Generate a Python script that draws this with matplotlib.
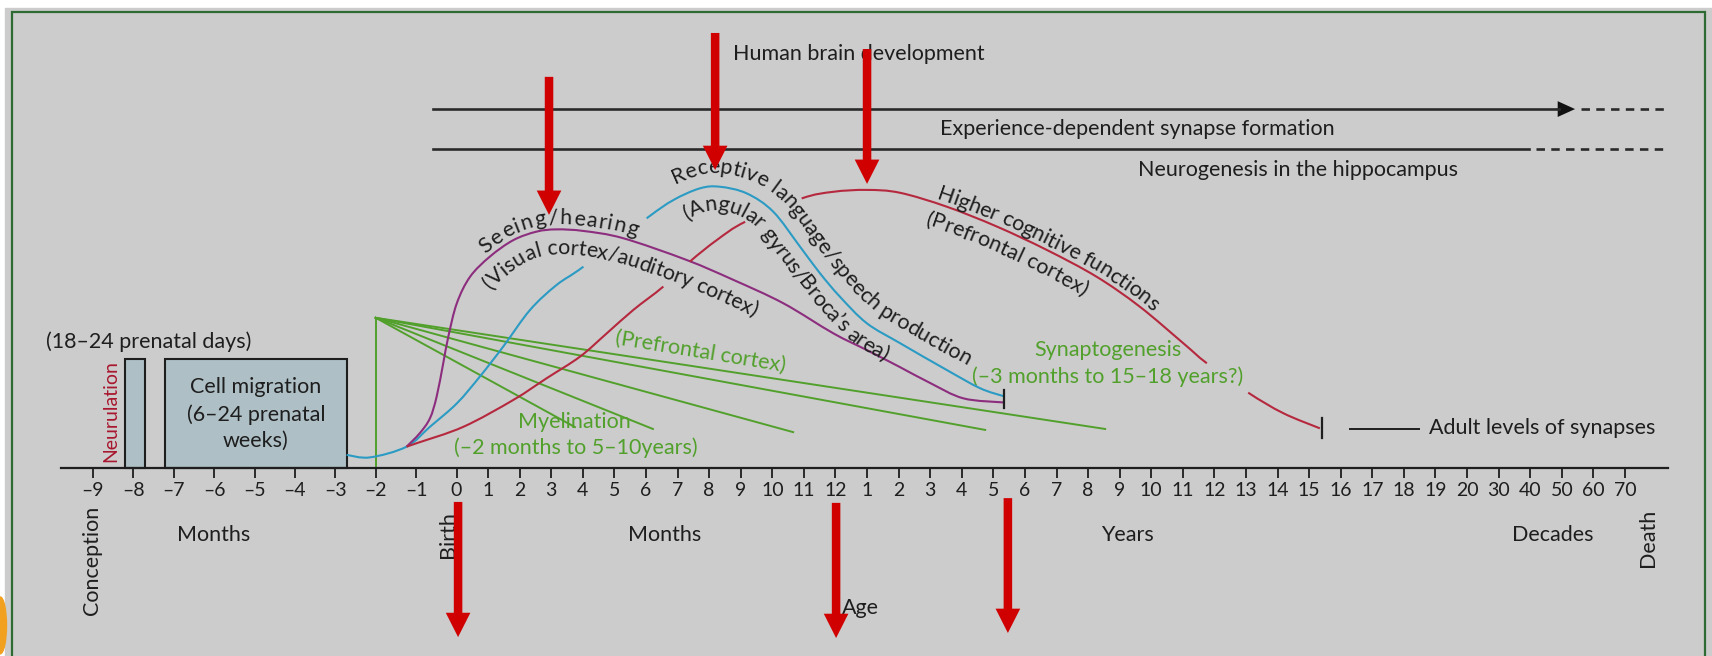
import numpy as np
import matplotlib
matplotlib.use('Agg')
import matplotlib.pyplot as plt
from matplotlib.patches import Rectangle, FancyArrow, Ellipse, PathPatch
from matplotlib.path import Path
from matplotlib.font_manager import FontProperties

plt.rcParams['font.family'] = ['Lato', 'DejaVu Sans']

# ---------------- data ----------------
# x is in axis units: 0 = birth, 1 per postnatal tick; prenatal months are wider
prenatal_ticks = ['–9', '–8', '–7', '–6', '–5', '–4', '–3', '–2', '–1']
month_ticks = [str(m) for m in range(0, 13)]
year_ticks = [str(y) for y in range(1, 21)]
decade_ticks = ['30', '40', '50', '60', '70']

# receptive language / speech production (teal), nan = gap left for text
lang_x = [-3.48, -2.74, -1.58, -0.84, 0.01, 0.74, 1.48, 2.33, 3.17, 4.02, np.nan,
          6.02, 6.87, 7.71, 8.34, 9.19, 10.03, 10.88, 11.51, 12.14, 12.99, 14.04, 15.52, 16.58, 17.32]
lang_y = [0.40, 0.32, 0.66, 1.29, 2.03, 2.88, 3.83, 4.99, 5.78, 6.36, np.nan,
          7.89, 8.47, 8.84, 8.89, 8.68, 8.10, 6.99, 6.15, 5.41, 4.57, 3.94, 3.09, 2.51, 2.26]

# seeing / hearing (purple)
sens_x = [-1.58, -1.16, -0.84, -0.63, -0.42, -0.26, 0.01, 0.43, 1.06, 1.80, 2.54, 3.17, 4.02,
          5.28, 7.29, 8.77, 10.35, 11.93, 12.99, 14.04, 14.99, 16.05, 17.32]
sens_y = [0.66, 1.09, 1.56, 2.24, 3.30, 4.14, 5.20, 6.04, 6.68, 7.20, 7.47, 7.54, 7.49,
          7.26, 6.57, 5.94, 5.20, 4.25, 3.72, 3.18, 2.68, 2.19, 2.06]

# higher cognitive functions (red)
cog_x = [-1.58, -1.26, 0.22, 1.80, 2.86, 3.91, 4.76, 5.60, 6.55, np.nan, 7.39, 8.24, 9.14, np.nan,
         10.93, 11.93, 12.99, 14.04, 15.52, 17.11, 18.69, 20.27, 21.64, 23.02, 23.76, np.nan,
         25.07, 26.18, 27.34]
cog_y = [0.66, 0.77, 1.29, 2.14, 2.83, 3.51, 4.25, 4.99, 5.73, np.nan, 6.52, 7.20, 7.78, np.nan,
         8.52, 8.73, 8.79, 8.70, 8.26, 7.63, 6.89, 6.04, 5.09, 3.93, 3.30, np.nan,
         2.37, 1.72, 1.24]

# myelination fan: starts at -2 months, ends of the lines
myel_top = 4.74
myel_end_x = [3.75, 6.22, 10.66, 16.74, 20.54]
myel_end_y = [1.28, 1.22, 1.12, 1.19, 1.22]

# prenatal boxes (x0, x1, height)
boxes = [(-10.50, -9.85, 3.44), (-9.23, -3.47, 3.44)]

# red arrows (x, top, tip)
arrows = [(2.93, 12.37, 8.00), (8.19, 13.76, 9.42), (13.00, 13.25, 8.98),
          (0.05, -1.09, -5.37), (12.02, -1.12, -5.40), (17.46, -0.97, -5.24)]

# ---------------- layout ----------------
W, H, DPI = 17.12, 6.56, 100
UNIT = 31.58                 # pixels per axis unit
X0_PX, Y0_PX = 456.5, 467.5  # pixel position of birth on the axis
PRE_STEP = 1.279             # width of a prenatal month

GREEN = '#52a02c'
PURPLE = '#8c2d7e'
TEAL = '#2b9bc4'
RED = '#b5283e'
ARROW = '#d00000'
INK = '#1e1e1e'
FS = 15.5

fig = plt.figure(figsize=(W, H), dpi=DPI, facecolor='white')
ax = fig.add_axes([0, 0, 1, 1])
ax.set_xlim(-X0_PX / UNIT, (W * DPI - X0_PX) / UNIT)
ax.set_ylim((Y0_PX - H * DPI) / UNIT, Y0_PX / UNIT)
ax.axis('off')

# background and frame
ax.add_patch(Rectangle((0.003, 0), 1, 1 - 8 / 656, transform=ax.transAxes,
                       color='#cccccc', zorder=0))
ax.add_patch(Rectangle((-14.08, -8), 53.61, 14.43 + 8, fill=False, ec='#2e6b34',
                       lw=1.6, zorder=1, clip_on=False))
ax.add_patch(Ellipse((-14.45, -5.0), 0.4, 1.8, color='#f2a020', zorder=1))

# time axis
tick_pos = np.r_[np.arange(-len(prenatal_ticks), 0) * PRE_STEP,
                 np.arange(len(month_ticks) + len(year_ticks) + len(decade_ticks))]
tick_lab = prenatal_ticks + month_ticks + year_ticks + decade_ticks
ax.plot([-12.52, 38.36], [0, 0], color=INK, lw=1.6, zorder=3)
ax.vlines(tick_pos, -0.32, 0, color=INK, lw=1.3, zorder=3)
for p, lab in zip(tick_pos, tick_lab):
    ax.text(p, -0.74, lab, ha='center', va='center', fontsize=14, color=INK)

for x, lab in [(-7.68, 'Months'), (6.60, 'Months'), (21.23, 'Years'), (34.72, 'Decades')]:
    ax.text(x, -2.14, lab, ha='center', va='center', fontsize=FS, color=INK)
for x, y, lab in [(-11.54, -2.93, 'Conception'), (-0.27, -2.11, 'Birth'), (37.73, -2.23, 'Death')]:
    ax.text(x, y, lab, rotation=90, ha='center', va='center', fontsize=FS, color=INK)
ax.text(12.78, -4.45, 'Age', ha='center', va='center', fontsize=FS, color=INK)

# prenatal boxes
for x0, x1, h in boxes:
    ax.add_patch(Rectangle((x0, 0), x1 - x0, h, fc='#aebfc5', ec=INK, lw=1.5, zorder=2))
ax.text(-10.94, 1.79, 'Neurulation', rotation=90, ha='center', va='center',
        fontsize=14, color='#a8162e')
ax.text(-9.75, 3.97, '(18–24 prenatal days)', ha='center', va='center', fontsize=FS, color=INK)
ax.text(-6.35, 1.69, 'Cell migration\n(6–24 prenatal\nweeks)', ha='center', va='center',
        multialignment='center', linespacing=1.4, fontsize=FS, color=INK, zorder=3)

# top bars
ax.plot([-0.73, 34.9], [11.35, 11.35], color='#2a2a2a', lw=1.9)
ax.add_patch(FancyArrow(34.8, 11.35, 0.62, 0, width=0.02, head_width=0.5, head_length=0.55,
                        length_includes_head=True, color='#111111', lw=0))
ax.plot([35.61, 38.4], [11.35, 11.35], color='#2a2a2a', lw=1.9, ls=(0, (3.2, 2.4)))
ax.plot([-0.73, 33.95], [10.09, 10.09], color='#2a2a2a', lw=1.9)
ax.plot([34.18, 38.4], [10.09, 10.09], color='#2a2a2a', lw=1.9, ls=(0, (3.2, 2.4)))
ax.text(8.76, 13.09, 'Human brain development', ha='left', va='center', fontsize=15.5, color=INK)
ax.text(21.57, 10.72, 'Experience-dependent synapse formation', ha='center', va='center',
        fontsize=FS, color=INK)
ax.text(26.65, 9.42, 'Neurogenesis in the hippocampus', ha='center', va='center',
        fontsize=FS, color=INK)

# myelination
ax.plot([tick_pos[7], tick_pos[7]], [0, myel_top], color=GREEN, lw=1.4, zorder=2)
for ex, ey in zip(myel_end_x, myel_end_y):
    ax.plot([tick_pos[7], ex], [myel_top, ey], color=GREEN, lw=1.4, zorder=2)
ax.text(3.72, 1.45, 'Myelination', ha='center', va='center', fontsize=FS, color=GREEN)
ax.text(3.77, 0.63, '(–2 months to 5–10years)', ha='center', va='center', fontsize=FS, color=GREEN)
ax.text(7.74, 3.66, '(Prefrontal cortex)', rotation=-9.3, rotation_mode='anchor',
        ha='center', va='center', fontsize=FS, color=GREEN)
ax.text(20.63, 3.72, 'Synaptogenesis', ha='center', va='center', fontsize=FS, color=GREEN)
ax.text(20.61, 2.88, '(–3 months to 15–18 years?)', ha='center', va='center', fontsize=FS, color=GREEN)


def smooth_path(xs, ys, skip_gaps=True):
    """Catmull-Rom curve through the points as a cubic Bezier Path; nan marks a gap."""
    xs, ys = np.asarray(xs, float), np.asarray(ys, float)
    gap_after = set()
    pts = []
    for x, y in zip(xs, ys):
        if np.isnan(x):
            gap_after.add(len(pts) - 1)
        else:
            pts.append((x, y))
    P = np.array(pts)
    Q = np.vstack([P[0], P, P[-1]])
    verts, codes = [P[0]], [Path.MOVETO]
    for i in range(len(P) - 1):
        if skip_gaps and i in gap_after:
            verts.append(P[i + 1]); codes.append(Path.MOVETO)
            continue
        c1 = Q[i + 1] + (Q[i + 2] - Q[i]) / 6
        c2 = Q[i + 2] - (Q[i + 3] - Q[i + 1]) / 6
        verts += [c1, c2, P[i + 1]]
        codes += [Path.CURVE4] * 3
    return Path(verts, codes)


for xs, ys, col in [(lang_x, lang_y, TEAL), (sens_x, sens_y, PURPLE), (cog_x, cog_y, RED)]:
    ax.add_patch(PathPatch(smooth_path(xs, ys), fill=False, ec=col, lw=1.5, zorder=3))

ax.plot([17.34, 17.34], [1.88, 2.46], color=INK, lw=1.6, zorder=4)
ax.plot([27.41, 27.41], [0.93, 1.57], color=INK, lw=1.6, zorder=4)
ax.plot([28.29, 30.48], [1.22, 1.22], color=INK, lw=1.4)
ax.text(30.79, 1.25, 'Adult levels of synapses', ha='left', va='center', fontsize=FS, color=INK)

renderer = fig.canvas.get_renderer()


def curve_text(xs, ys, text, x_start, x_end, offset, size=FS, color=INK):
    """Write text letter by letter along a curve, shifted (px) along its normal."""
    path = smooth_path(xs, ys, skip_gaps=False)
    pts = np.vstack(path.to_polygons(transform=ax.transData, closed_only=False))
    step = np.hypot(*np.diff(pts, axis=0).T)
    pts = pts[np.r_[True, step > 1e-6]]
    tan = np.gradient(pts, axis=0)
    tan /= np.hypot(tan[:, 0], tan[:, 1])[:, None]
    off = pts + offset * np.column_stack([-tan[:, 1], tan[:, 0]])
    arc = np.r_[0, np.cumsum(np.hypot(*np.diff(off, axis=0).T))]
    idx = np.arange(len(pts))
    px0 = ax.transData.transform((x_start, 0))[0]
    px1 = ax.transData.transform((x_end, 0))[0]
    s0 = np.interp(np.interp(px0, pts[:, 0], idx), idx, arc)
    s1 = np.interp(np.interp(px1, pts[:, 0], idx), idx, arc)
    prop = FontProperties(family=['Lato', 'DejaVu Sans'], size=size)
    base = renderer.get_text_width_height_descent('nn', prop, ismath=False)[0]
    adv = [renderer.get_text_width_height_descent('n' + c + 'n', prop, ismath=False)[0] - base
           for c in text]
    cum = np.r_[0, np.cumsum(adv)]
    k = (s1 - s0) / cum[-1]
    for i, c in enumerate(text):
        if c == ' ':
            continue
        s = s0 + k * (cum[i] + cum[i + 1]) / 2
        px, py = np.interp(s, arc, off[:, 0]), np.interp(s, arc, off[:, 1])
        a = np.array([np.interp(s - 8, arc, off[:, 0]), np.interp(s - 8, arc, off[:, 1])])
        b = np.array([np.interp(s + 8, arc, off[:, 0]), np.interp(s + 8, arc, off[:, 1])])
        d = b - a
        X, Y = ax.transData.inverted().transform((px, py))
        ax.text(X, Y, c, rotation=np.degrees(np.arctan2(d[1], d[0])), rotation_mode='anchor',
                ha='center', va='baseline', fontproperties=prop, color=color, zorder=5)


curve_text(sens_x, sens_y, 'Seeing/hearing', 1.00, 5.65, 5)
curve_text(sens_x, sens_y, '(Visual cortex/auditory cortex)', 0.49, 9.74, -25)
curve_text(lang_x, lang_y, 'Receptive language/speech production', 7.10, 15.95, 13)
curve_text(lang_x, lang_y, '(Angular gyrus/Broca’s area)', 6.95, 13.90, -24)
curve_text(cog_x, cog_y, 'Higher cognitive functions', 15.15, 21.95, 4)
curve_text(cog_x, cog_y, '(Prefrontal cortex)', 15.06, 20.22, -24)

# red arrows drawn over the figure
for x, top, tip in arrows:
    ax.add_patch(FancyArrow(x, top, 0, tip - top, width=0.27, head_width=0.78, head_length=0.77,
                            length_includes_head=True, color=ARROW, lw=0, zorder=10))

fig.savefig('out.png', dpi=DPI, facecolor='white')
